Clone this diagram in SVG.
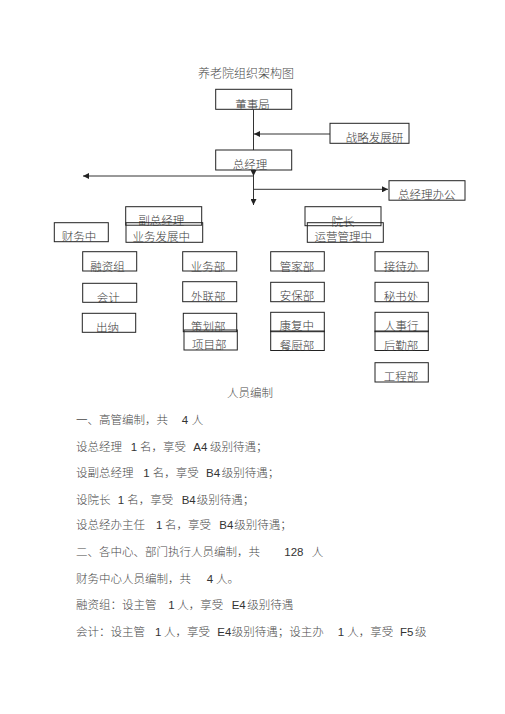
<svg xmlns="http://www.w3.org/2000/svg" width="505" height="714" viewBox="0 0 505 714">
<style>
  .bx { fill: none; stroke: #222; stroke-width: 1; }
  .lb { font-family: "Liberation Serif", "Noto Sans CJK SC", serif; font-size: 11.5px; font-weight: 300; fill: #3a3a3a; text-anchor: middle; }
  .tx { font-family: "Liberation Serif", "Noto Sans CJK SC", serif; font-size: 11.5px; font-weight: 300; fill: #4a4a4a; }
  .en { font-family: "Liberation Sans", Arial, sans-serif; font-size: 11.5px; font-weight: 400; fill: #333; }
  .ln { fill: none; stroke: #333; stroke-width: 1; }
</style>
<defs>
  <marker id="ah" markerUnits="userSpaceOnUse" markerWidth="6" markerHeight="6" viewBox="0 0 6 6" refX="6" refY="3" orient="auto">
    <path d="M0,0 L6,3 L0,6 z" fill="#222"/>
  </marker>
</defs>
<rect width="505" height="714" fill="#fff"/>

<text id="title" class="tx" x="198" y="78" style="font-size:12px">养老院组织架构图</text>

<g id="connectors">
  <path class="ln" d="M253.5,109.5 V150"/>
  <path class="ln" d="M330,134 H254" marker-end="url(#ah)"/>
  <path class="ln" d="M253.5,176 H83" marker-end="url(#ah)"/>
  <path class="ln" d="M253.5,170 V176" marker-end="url(#ah)"/>
  <path class="ln" d="M253.5,176 V205" marker-end="url(#ah)"/>
  <path class="ln" d="M253.5,189.3 H388" marker-end="url(#ah)"/>
</g>

<g id="n-dongshiju"><rect class="bx" x="215.7" y="89.3" width="76" height="20"/><text class="lb" x="252.5" y="109">董事局</text></g>
<g id="n-zhanlue"><rect class="bx" x="330" y="123.3" width="79" height="20"/><text class="lb" x="374.5" y="142">战略发展研</text></g>
<g id="n-zongjingli"><rect class="bx" x="215.7" y="150" width="76" height="20"/><text class="lb" x="250" y="168.5">总经理</text></g>
<g id="n-zjlban"><rect class="bx" x="389" y="180.7" width="76" height="19.5"/><text class="lb" x="426.7" y="198.5">总经理办公</text></g>

<g id="n-fuzong"><rect class="bx" x="125.7" y="206.7" width="76" height="18.5"/><text class="lb" x="161.3" y="224.8">副总经理</text></g>
<g id="n-caiwu"><rect class="bx" x="54.3" y="222.7" width="54" height="19"/><text class="lb" x="79" y="240.8">财务中</text></g>
<g id="n-yewufz"><rect class="bx" x="126" y="222.7" width="76.7" height="19.6"/><text class="lb" x="161.3" y="240.8">业务发展中</text></g>
<g id="n-yuanzhang"><rect class="bx" x="305" y="206.7" width="76" height="19"/><text class="lb" x="343" y="225.8">院长</text></g>
<g id="n-yunying"><rect class="bx" x="307.3" y="222.7" width="76" height="19.6"/><text class="lb" x="343.3" y="240.8">运营管理中</text></g>

<g id="n-rongzi"><rect class="bx" x="82.7" y="251.7" width="54" height="19.3"/><text class="lb" x="107.5" y="270.8">融资组</text></g>
<g id="n-kuaiji"><rect class="bx" x="82.7" y="283.3" width="54" height="19"/><text class="lb" x="108.3" y="302.3">会计</text></g>
<g id="n-chuna"><rect class="bx" x="82.3" y="313.3" width="53.4" height="19"/><text class="lb" x="107.5" y="332.3">出纳</text></g>

<g id="n-yewubu"><rect class="bx" x="182.7" y="251.7" width="54" height="19.3"/><text class="lb" x="208" y="271.3">业务部</text></g>
<g id="n-wailian"><rect class="bx" x="182.7" y="281.7" width="54" height="20"/><text class="lb" x="208.3" y="301.3">外联部</text></g>
<g id="n-cehua"><rect class="bx" x="183.3" y="313.3" width="53.4" height="18.4"/><text class="lb" x="208.3" y="331.3">策划部</text></g>
<g id="n-xiangmu"><rect class="bx" x="184" y="330" width="53.3" height="20"/><text class="lb" x="209.2" y="349">项目部</text></g>

<g id="n-guanjia"><rect class="bx" x="270.7" y="251.7" width="53.6" height="19.3"/><text class="lb" x="297" y="270.8">管家部</text></g>
<g id="n-anbao"><rect class="bx" x="270.7" y="282.3" width="53.6" height="19.4"/><text class="lb" x="297" y="300.3">安保部</text></g>
<g id="n-kangfu"><rect class="bx" x="270.7" y="312.3" width="53.6" height="19.4"/><text class="lb" x="296.7" y="330.3">康复中</text></g>
<g id="n-canchu"><rect class="bx" x="270.7" y="331" width="53.6" height="19.5"/><text class="lb" x="297" y="350">餐厨部</text></g>

<g id="n-jiedai"><rect class="bx" x="375" y="251.7" width="53.3" height="19.3"/><text class="lb" x="401" y="270.8">接待办</text></g>
<g id="n-mishu"><rect class="bx" x="375" y="282.3" width="53.3" height="19.4"/><text class="lb" x="401" y="300.8">秘书处</text></g>
<g id="n-renshi"><rect class="bx" x="375" y="312.3" width="53.3" height="19.4"/><text class="lb" x="401.3" y="330.3">人事行</text></g>
<g id="n-houqin"><rect class="bx" x="375" y="331" width="53.3" height="19.5"/><text class="lb" x="401" y="350">后勤部</text></g>
<g id="n-gongcheng"><rect class="bx" x="375" y="362.7" width="53.3" height="19.3"/><text class="lb" x="401" y="381.3">工程部</text></g>

<g id="body">
  <text class="tx" x="250" y="397" text-anchor="middle">人员编制</text>
  <text class="tx" y="424"><tspan x="76">一、高管编制，共</tspan><tspan class="en" x="181.7">4</tspan><tspan x="191.7">人</tspan></text>
  <text class="tx" y="450.5"><tspan x="76">设总经理</tspan><tspan class="en" x="130.7">1</tspan><tspan x="140">名，享受</tspan><tspan class="en" x="193.3">A4</tspan><tspan x="210">级别待遇；</tspan></text>
  <text class="tx" y="477"><tspan x="76">设副总经理</tspan><tspan class="en" x="143.3">1</tspan><tspan x="152.7">名，享受</tspan><tspan class="en" x="206">B4</tspan><tspan x="221.7">级别待遇；</tspan></text>
  <text class="tx" y="503.5"><tspan x="76">设院长</tspan><tspan class="en" x="117.7">1</tspan><tspan x="127.3">名，享受</tspan><tspan class="en" x="181.7">B4</tspan><tspan x="196.7">级别待遇；</tspan></text>
  <text class="tx" y="529"><tspan x="76">设总经办主任</tspan><tspan class="en" x="156">1</tspan><tspan x="165">名，享受</tspan><tspan class="en" x="219.3">B4</tspan><tspan x="234.3">级别待遇；</tspan></text>
  <text class="tx" y="556"><tspan x="76">二、各中心、部门执行人员编制，共</tspan><tspan class="en" x="284.3">128</tspan><tspan x="311.7">人</tspan></text>
  <text class="tx" y="582.5"><tspan x="76">财务中心人员编制，共</tspan><tspan class="en" x="206.7">4</tspan><tspan x="216">人。</tspan></text>
  <text class="tx" y="608.5"><tspan x="76">融资组：设主管</tspan><tspan class="en" x="168.3">1</tspan><tspan x="177.3">人，享受</tspan><tspan class="en" x="231.7">E4</tspan><tspan x="247.3">级别待遇</tspan></text>
  <text class="tx" y="635.5"><tspan x="76">会计：设主管</tspan><tspan class="en" x="155">1</tspan><tspan x="164">人，享受</tspan><tspan class="en" x="217.3">E4</tspan><tspan x="231.7">级别待遇；设主办</tspan><tspan class="en" x="337.7">1</tspan><tspan x="347.3">人，享受</tspan><tspan class="en" x="400">F5</tspan><tspan x="415">级</tspan></text>
</g>
</svg>
